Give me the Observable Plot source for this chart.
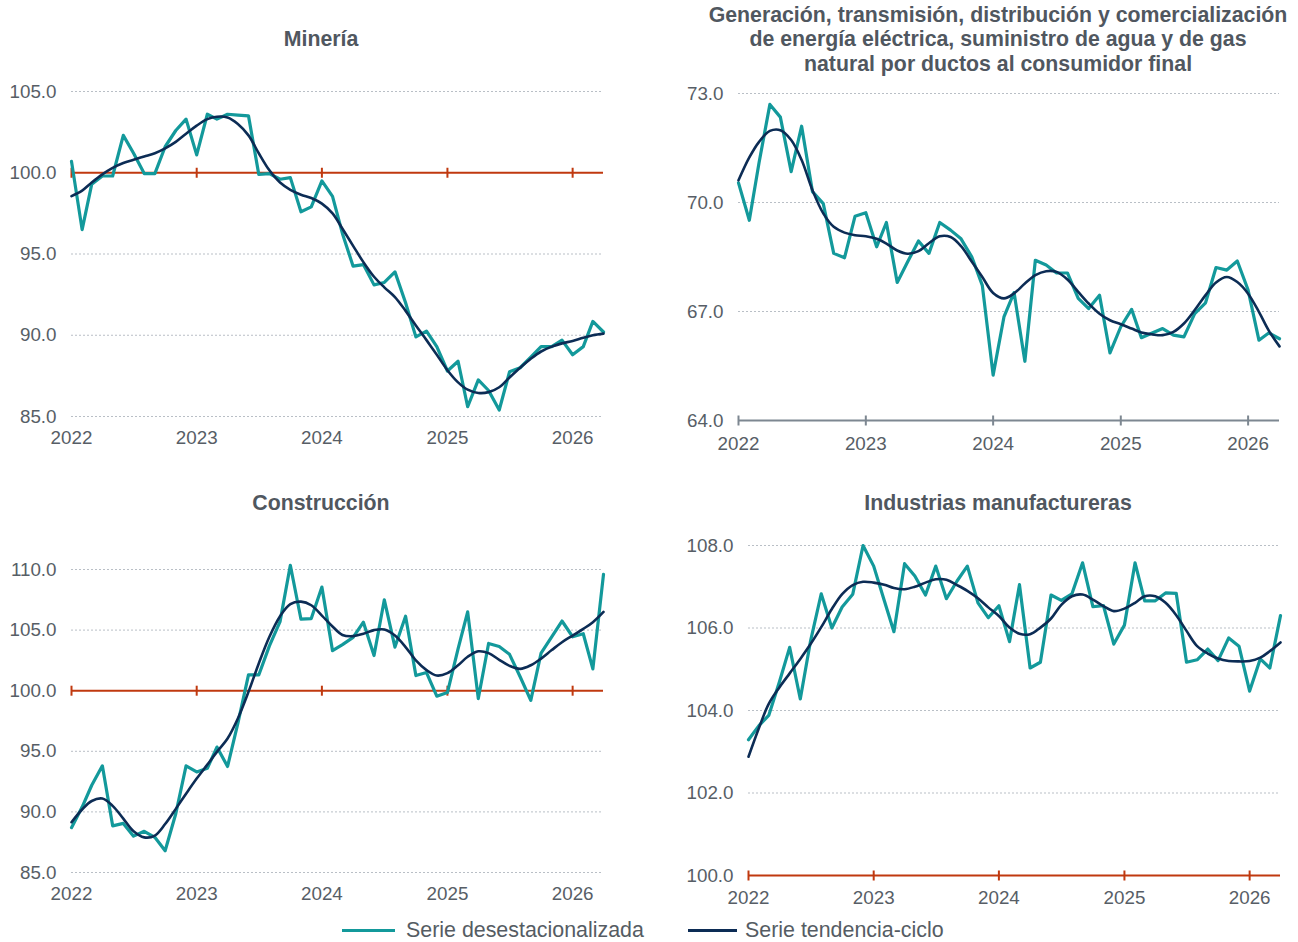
<!DOCTYPE html>
<html>
<head>
<meta charset="utf-8">
<script src="https://cdn.jsdelivr.net/npm/d3@7"></script>
<script src="https://cdn.jsdelivr.net/npm/@observablehq/plot@0.6"></script>
<style>
  html, body { margin: 0; padding: 0; background: #fff; overflow: hidden; }
  body { width: 1298px; height: 942px; position: relative; font-family: "Liberation Sans", Arial, sans-serif; }
  .panel { position: absolute; }
  .title { position: absolute; text-align: center; font-weight: bold; font-size: 21.3px; line-height: 24.5px; color: #50575f; white-space: nowrap; }
  .legend { position: absolute; top: 918px; height: 24px; display: flex; align-items: center; font-size: 21.4px; color: #555c63; }
  .swatch { display: inline-block; height: 3px; }
</style>
</head>
<body>
<div class="title" style="left:1px; width:640px; top:26.75px;">Minería</div>
<div class="title" style="left:698px; width:600px; top:2.75px;">Generación, transmisión, distribución y comercialización<br>de energía eléctrica, suministro de agua y de gas<br>natural por ductos al consumidor final</div>
<div class="title" style="left:1px; width:640px; top:490.75px;">Construcción</div>
<div class="title" style="left:698px; width:600px; top:490.75px;">Industrias manufactureras</div>

<div class="panel" id="p1" style="left:0px; top:70px;"></div>
<div class="panel" id="p2" style="left:660px; top:70px;"></div>
<div class="panel" id="p3" style="left:0px; top:540px;"></div>
<div class="panel" id="p4" style="left:660px; top:520px;"></div>

<div class="legend" style="left:342px;"><span class="swatch" style="width:53px; background:#13999b;"></span><span style="margin-left:11px;">Serie desestacionalizada</span></div>
<div class="legend" style="left:688px;"><span class="swatch" style="width:49px; background:#0c2c55;"></span><span style="margin-left:8px;">Serie tendencia-ciclo</span></div>

<script>
// ---------- DATA ----------
const startMonth = "2022-01-01";
const monthCount = 52; // Jan 2022 - Apr 2026
const yearTicks = ["2022", "2023", "2024", "2025", "2026"];

const mineriaDes = [100.7, 96.5, 99.3, 99.8, 99.8, 102.3, 101.2, 99.95, 99.95, 101.6, 102.6, 103.3,
  101.1, 103.6, 103.3, 103.6, 103.55, 103.5, 99.9, 99.95, 99.6, 99.7, 97.6, 97.9,
  99.5, 98.55, 96.25, 94.25, 94.35, 93.1, 93.25, 93.9, 92.0, 89.9, 90.25, 89.3,
  87.8, 88.4, 85.6, 87.25, 86.6, 85.4, 87.75, 88.0, 88.65, 89.3, 89.3, 89.7,
  88.8, 89.3, 90.85, 90.2];
const mineriaTen = [98.56, 98.9, 99.4, 99.9, 100.3, 100.6, 100.8, 101.0, 101.2, 101.5, 101.9, 102.4,
  102.9, 103.3, 103.45, 103.4, 103.0, 102.3, 101.2, 100.15, 99.4, 98.95, 98.65, 98.45,
  98.1, 97.5, 96.55, 95.5, 94.5, 93.6, 92.95, 92.35, 91.5, 90.6, 89.7, 88.8,
  87.85, 87.1, 86.65, 86.45, 86.5, 86.8, 87.4, 88.0, 88.55, 89.0, 89.3, 89.5,
  89.65, 89.85, 90.0, 90.1];

const energiaDes = [70.54, 69.51, 71.1, 72.7, 72.35, 70.85, 72.1, 70.3, 69.97, 68.6, 68.48, 69.62,
  69.72, 68.78, 69.45, 67.8, 68.37, 68.94, 68.6, 69.45, 69.24, 69.0, 68.5, 67.72,
  65.25, 66.85, 67.52, 65.63, 68.41, 68.28, 68.06, 68.06, 67.36, 67.08, 67.45, 65.86,
  66.58, 67.06, 66.28, 66.41, 66.53, 66.35, 66.3, 66.94, 67.24, 68.21, 68.14, 68.39,
  67.59, 66.21, 66.41, 66.25];
const energiaTen = [70.61, 71.24, 71.67, 71.97, 71.99, 71.72, 71.17, 70.34, 69.7, 69.33, 69.17, 69.1,
  69.07, 69.0, 68.87, 68.68, 68.59, 68.66, 68.88, 69.07, 69.05, 68.8, 68.37, 67.95,
  67.51, 67.36, 67.5, 67.77, 68.0, 68.11, 68.09, 67.88, 67.54, 67.22, 66.94, 66.76,
  66.65, 66.53, 66.42, 66.37, 66.35, 66.44, 66.67, 67.04, 67.45, 67.8, 67.95, 67.81,
  67.49, 66.99, 66.48, 66.04];

const construccionDes = [88.7, 90.4, 92.2, 93.8, 88.85, 89.05, 88.0, 88.4, 87.9, 86.8, 89.85, 93.8,
  93.3, 93.6, 95.35, 93.75, 97.3, 101.3, 101.3, 103.7, 105.7, 110.35, 105.9, 105.95,
  108.55, 103.3, 103.8, 104.4, 105.65, 102.9, 107.5, 103.6, 106.15, 101.25, 101.5, 99.55,
  99.85, 103.45, 106.5, 99.35, 103.9, 103.65, 103.0, 101.15, 99.2, 103.1, 104.45, 105.75,
  104.45, 104.7, 101.8, 109.6];
const construccionTen = [89.15, 90.2, 90.9, 91.1, 90.5, 89.45, 88.4, 87.9, 88.05, 89.0, 90.25, 91.5,
  92.75, 93.9, 94.95, 96.05, 97.7, 99.9, 102.25, 104.45, 106.15, 107.15, 107.35, 107.05,
  106.2, 105.3, 104.6, 104.5, 104.7, 105.0, 105.05, 104.55, 103.6, 102.5, 101.7, 101.25,
  101.45, 102.1, 102.8, 103.25, 103.1, 102.55, 102.05, 101.8, 102.1, 102.65, 103.35, 104.0,
  104.55, 105.1, 105.65, 106.5];

const manufacturaDes = [103.29, 103.64, 103.88, 104.69, 105.53, 104.28, 105.69, 106.83, 106.0, 106.51, 106.82, 108.0,
  107.5, 106.66, 105.91, 107.56, 107.26, 106.8, 107.5, 106.71, 107.14, 107.5, 106.61, 106.25,
  106.54, 105.67, 107.05, 105.03, 105.17, 106.8, 106.67, 106.83, 107.58, 106.52, 106.54, 105.61,
  106.07, 107.58, 106.66, 106.66, 106.85, 106.84, 105.17, 105.23, 105.49, 105.21, 105.76, 105.56,
  104.47, 105.25, 105.03, 106.3];
const manufacturaTen = [102.88, 103.59, 104.16, 104.56, 104.9, 105.25, 105.61, 106.02, 106.46, 106.82, 107.04, 107.12,
  107.1, 107.05, 106.97, 106.94, 107.0, 107.1, 107.18, 107.17, 107.04, 106.9, 106.72, 106.5,
  106.29, 106.01, 105.86, 105.85, 106.01, 106.23, 106.56, 106.77, 106.81, 106.69, 106.53, 106.41,
  106.47, 106.61, 106.77, 106.77, 106.61, 106.31, 105.93, 105.56, 105.38, 105.26, 105.2, 105.19,
  105.2, 105.28, 105.44, 105.65];

const mineriaTicks = [85, 90, 95, 100, 105];
const energiaTicks = [64, 67, 70, 73];
const construccionTicks = [85, 90, 95, 100, 105, 110];
const manufacturaTicks = [100, 102, 104, 106, 108];

// ---------- STYLE ----------
const TEAL = "#13999b";
const NAVY = "#0c2c55";
const RED = "#c0390f";
const AXISGRAY = "#7d8791";
const GRID = "#b9bfc6";
const TEXT = "#575e66";

const dates = d3.utcMonth.range(new Date(startMonth), d3.utcMonth.offset(new Date(startMonth), monthCount));
const yearDates = yearTicks.map(y => new Date(y + "-01-01"));
const vtick = {draw(ctx) { ctx.moveTo(0, -5); ctx.lineTo(0, 5); }};

function panel(el, cfg) {
  const des = dates.map((d, i) => ({date: d, v: cfg.des[i]}));
  const ten = dates.map((d, i) => ({date: d, v: cfg.ten[i]}));
  const gridVals = cfg.ticks.filter(t => t !== cfg.base);
  const chart = Plot.plot({
    width: cfg.width, height: cfg.height,
    marginLeft: cfg.ml, marginRight: cfg.mr, marginTop: cfg.mt, marginBottom: cfg.mb,
    style: {fontSize: "18.8px", fontFamily: "'Liberation Sans', Arial, sans-serif", color: TEXT, background: "transparent", overflow: "visible"},
    x: {type: "utc", domain: [dates[0], dates[dates.length - 1]], ticks: yearDates, tickFormat: d3.utcFormat("%Y"), tickSize: 0, tickPadding: cfg.xpad, label: null},
    y: {domain: cfg.domain, ticks: cfg.ticks, tickFormat: d => d.toFixed(1), tickSize: 0, tickPadding: 15, label: null},
    marks: [
      Plot.ruleY(gridVals, {stroke: GRID, strokeWidth: 1, strokeDasharray: "2,2"}),
      Plot.ruleY([cfg.base], {stroke: cfg.baseColor, strokeWidth: 2}),
      Plot.dot(yearDates, {x: d => d, y: () => cfg.base, symbol: vtick, stroke: cfg.baseColor, strokeWidth: 2}),
      Plot.line(des, {x: "date", y: "v", stroke: TEAL, strokeWidth: 3.2}),
      Plot.line(ten, {x: "date", y: "v", stroke: NAVY, strokeWidth: 2.6, curve: "catmull-rom"})
    ]
  });
  document.getElementById(el).appendChild(chart);
}

panel("p1", {des: mineriaDes, ten: mineriaTen, domain: [85, 105], ticks: mineriaTicks, base: 100, baseColor: RED,
  width: 620, height: 382, ml: 71, mr: 17, mt: 21, mb: 36, xpad: 14});
panel("p2", {des: energiaDes, ten: energiaTen, domain: [64, 73], ticks: energiaTicks, base: 64, baseColor: AXISGRAY,
  width: 638, height: 386, ml: 78, mr: 19, mt: 23, mb: 36, xpad: 16});
panel("p3", {des: construccionDes, ten: construccionTen, domain: [85, 110], ticks: construccionTicks, base: 100, baseColor: RED,
  width: 620, height: 368, ml: 71, mr: 17, mt: 29, mb: 36, xpad: 14});
panel("p4", {des: manufacturaDes, ten: manufacturaTen, domain: [100, 108], ticks: manufacturaTicks, base: 100, baseColor: RED,
  width: 638, height: 391, ml: 88, mr: 18, mt: 25, mb: 36, xpad: 15});
</script>
</body>
</html>
